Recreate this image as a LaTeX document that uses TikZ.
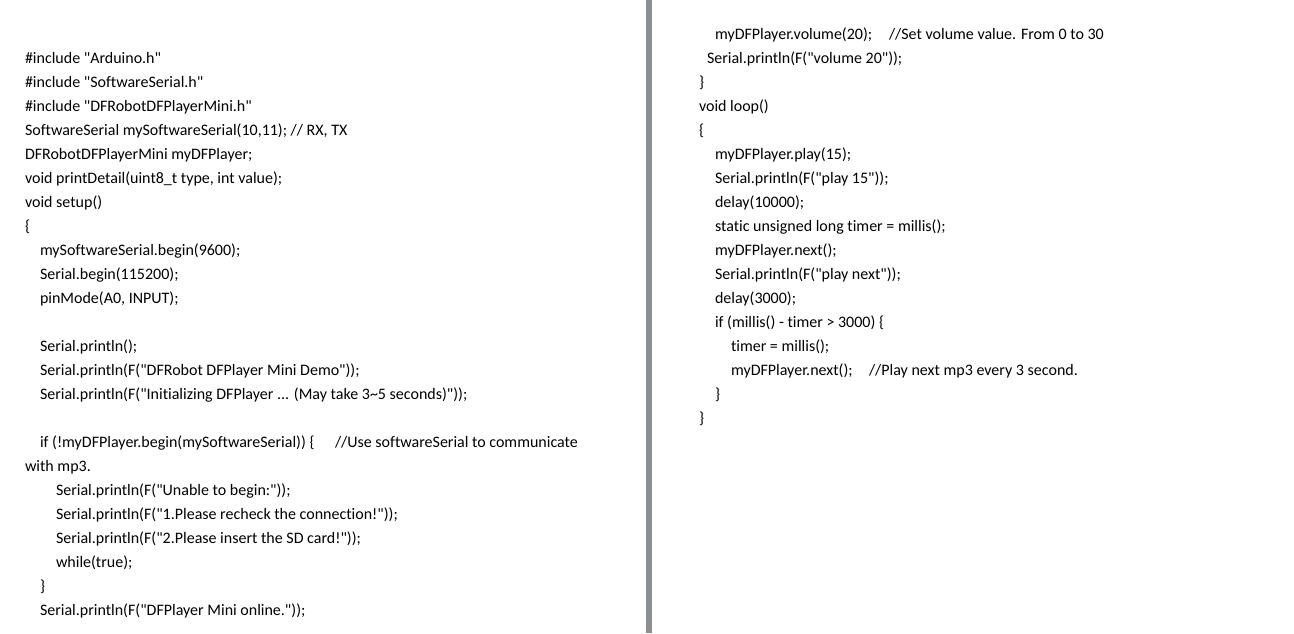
\documentclass[tikz,border=0pt]{standalone}
\usepackage{fontspec}
\newfontfamily\codefnt{Carlito}[Ligatures={CommonOff}]
\definecolor{bargray}{HTML}{8C8F92}
\begin{document}
\begin{tikzpicture}[x=1pt,y=-1pt,
  code/.style={anchor=base west, inner sep=0pt, outer sep=0pt, text=black, font=\codefnt\fontsize{16}{20}\selectfont},
  divider/.style={fill=bargray, draw=none}]
\useasboundingbox (0,0) rectangle (1294,633);
\fill[white] (0,0) rectangle (1294,633);
\path[divider] (646,0) rectangle (652,633);
% left column
\node[code] (l1) at (25,63) {\#include "Arduino.h"};
\node[code] (l2) at (25,87) {\#include "SoftwareSerial.h"};
\node[code] (l3) at (25,111) {\#include "DFRobotDFPlayerMini.h"};
\node[code] (l4) at (25,135) {SoftwareSerial mySoftwareSerial(10,11); // RX, TX};
\node[code] (l5) at (25,159) {DFRobotDFPlayerMini myDFPlayer;};
\node[code] (l6) at (25,183) {void printDetail(uint8\_t type, int value);};
\node[code] (l7) at (25,207) {void setup()};
\node[code] (l8) at (25,231) {\{};
\node[code] (l9) at (40,255) {mySoftwareSerial.begin(9600);};
\node[code] (l10) at (40,279) {Serial.begin(115200);};
\node[code] (l11) at (40,303) {pinMode(A0, INPUT);};
\node[code] (l13) at (40,351) {Serial.println();};
\node[code] (l14) at (40,375) {Serial.println(F("DFRobot DFPlayer Mini Demo"));};
\node[code] (l15) at (40,399) {Serial.println(F("Initializing DFPlayer ... (May take 3\textasciitilde5 seconds)"));};
\node[code] (l17) at (40,447) {if (!myDFPlayer.begin(mySoftwareSerial)) \{};
\node[code] (l17c) at (335,447) {//Use softwareSerial to communicate};
\node[code] (l18) at (25,471) {with mp3.};
\node[code] (l19) at (56,495) {Serial.println(F("Unable to begin:"));};
\node[code] (l20) at (56,519) {Serial.println(F("1.Please recheck the connection!"));};
\node[code] (l21) at (56,543) {Serial.println(F("2.Please insert the SD card!"));};
\node[code] (l22) at (56,567) {while(true);};
\node[code] (l23) at (40,591) {\}};
\node[code] (l24) at (40,615) {Serial.println(F("DFPlayer Mini online."));};
% right column
\node[code] (r1) at (715,39) {myDFPlayer.volume(20);};
\node[code] (r1c) at (889,39) {//Set volume value. From 0 to 30};
\node[code] (r2) at (707,63) {Serial.println(F("volume 20"));};
\node[code] (r3) at (699,87) {\}};
\node[code] (r4) at (699,111) {void loop()};
\node[code] (r5) at (699,135) {\{};
\node[code] (r6) at (715,159) {myDFPlayer.play(15);};
\node[code] (r7) at (715,183) {Serial.println(F("play 15"));};
\node[code] (r8) at (715,207) {delay(10000);};
\node[code] (r9) at (715,231) {static unsigned long timer = millis();};
\node[code] (r10) at (715,255) {myDFPlayer.next();};
\node[code] (r11) at (715,279) {Serial.println(F("play next"));};
\node[code] (r12) at (715,303) {delay(3000);};
\node[code] (r13) at (715,327) {if (millis() - timer > 3000) \{};
\node[code] (r14) at (731,351) {timer = millis();};
\node[code] (r15) at (731,375) {myDFPlayer.next();};
\node[code] (r15c) at (869,375) {//Play next mp3 every 3 second.};
\node[code] (r16) at (715,399) {\}};
\node[code] (r17) at (699,423) {\}};
\end{tikzpicture}
\end{document}
